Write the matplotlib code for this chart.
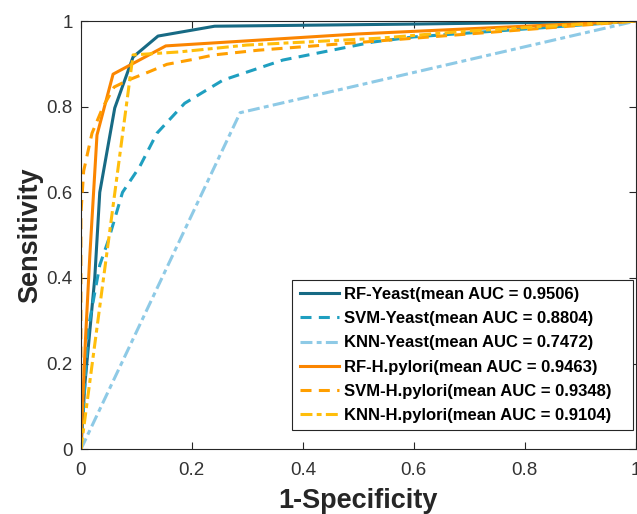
import matplotlib
matplotlib.use('Agg')
import matplotlib.pyplot as plt

plt.rcParams['font.family'] = ['Liberation Sans', 'DejaVu Sans']

# ROC curves (1-specificity, sensitivity) for each classifier / dataset
rf_yeast_x = [0, 0.007, 0.025, 0.034, 0.061, 0.094, 0.139, 0.241, 0.6, 1.0]
rf_yeast_y = [0, 0.15, 0.40, 0.60, 0.797, 0.916, 0.965, 0.988, 0.993, 1.0]

svm_yeast_x = [0, 0.005, 0.013, 0.034, 0.050, 0.075, 0.106, 0.137, 0.187, 0.256,
               0.364, 0.526, 0.600, 1.0]
svm_yeast_y = [0, 0.10, 0.28, 0.43, 0.49, 0.60, 0.66, 0.738, 0.808, 0.862,
               0.909, 0.951, 0.963, 1.0]

knn_yeast_x = [0, 0.287, 1.0]
knn_yeast_y = [0, 0.786, 1.0]

rf_hp_x = [0, 0.003, 0.008, 0.016, 0.029, 0.058, 0.153, 0.50, 1.0]
rf_hp_y = [0, 0.10, 0.25, 0.45, 0.734, 0.876, 0.942, 0.970, 1.0]

svm_hp_x = [0, 0, 0.005, 0.020, 0.040, 0.060, 0.085, 0.120, 0.155, 0.200,
            0.240, 0.320, 0.500, 0.700, 1.0]
svm_hp_y = [0, 0.55, 0.65, 0.738, 0.80, 0.846, 0.862, 0.880, 0.899, 0.910,
            0.921, 0.932, 0.950, 0.970, 1.0]

knn_hp_x = [0, 0.094, 0.178, 0.299, 0.538, 0.700, 1.0]
knn_hp_y = [0, 0.921, 0.928, 0.944, 0.960, 0.977, 1.0]

labels = ['RF-Yeast(mean AUC = 0.9506)',
          'SVM-Yeast(mean AUC = 0.8804)',
          'KNN-Yeast(mean AUC = 0.7472)',
          'RF-H.pylori(mean AUC = 0.9463)',
          'SVM-H.pylori(mean AUC = 0.9348)',
          'KNN-H.pylori(mean AUC = 0.9104)']

dashed = (0, (3.6, 2.4))
dashdot = (0, (3.9, 1.4, 1.6, 1.4))

fig = plt.figure(figsize=(6.37, 5.14), dpi=100)
ax = fig.add_axes([0.127, 0.126, 0.871, 0.833])

lw = 2.2
ax.plot(rf_yeast_x, rf_yeast_y, color='#176a84', lw=lw, ls='-')
ax.plot(svm_yeast_x, svm_yeast_y, color='#1f9fc0', lw=lw, ls=dashed)
ax.plot(knn_yeast_x, knn_yeast_y, color='#8ecae6', lw=lw, ls=dashdot)
ax.plot(rf_hp_x, rf_hp_y, color='#fb8500', lw=lw, ls='-')
ax.plot(svm_hp_x, svm_hp_y, color='#ff9f00', lw=lw, ls=dashed)
ax.plot(knn_hp_x, knn_hp_y, color='#ffbe0b', lw=lw, ls=dashdot)

ax.set_xlim(0, 1)
ax.set_ylim(0, 1)
ax.set_xticks([0, 0.2, 0.4, 0.6, 0.8, 1])
ax.set_yticks([0, 0.2, 0.4, 0.6, 0.8, 1])
ax.set_xticklabels(['0', '0.2', '0.4', '0.6', '0.8', '1'])
ax.set_yticklabels(['0', '0.2', '0.4', '0.6', '0.8', '1'])
ax.tick_params(direction='in', top=True, right=True, length=5, width=0.8,
               labelsize=13.5, labelcolor='#333333', colors='#262626')
ax.tick_params(axis='x', pad=9)
ax.tick_params(axis='y', pad=6)
for s in ax.spines.values():
    s.set_color('#262626')
    s.set_linewidth(0.8)

ax.set_xlabel('1-Specificity', fontsize=19.5, fontweight='bold', color='#262626', labelpad=7)
ax.set_ylabel('Sensitivity', fontsize=19.5, fontweight='bold', color='#262626', labelpad=2)

# trailing spaces widen the right margin inside the legend box
leg = ax.legend(ax.get_lines(), [l + '   ' for l in labels],
                loc='lower right', bbox_to_anchor=(0.9946, 0.044),
                prop={'weight': 'bold', 'size': 12},
                fancybox=False, framealpha=1, edgecolor='#262626',
                handlelength=2.35, handletextpad=0.3, labelspacing=0.55,
                borderaxespad=0, borderpad=0.45)
leg.get_frame().set_linewidth(0.8)

fig.savefig('out.png', dpi=100)
